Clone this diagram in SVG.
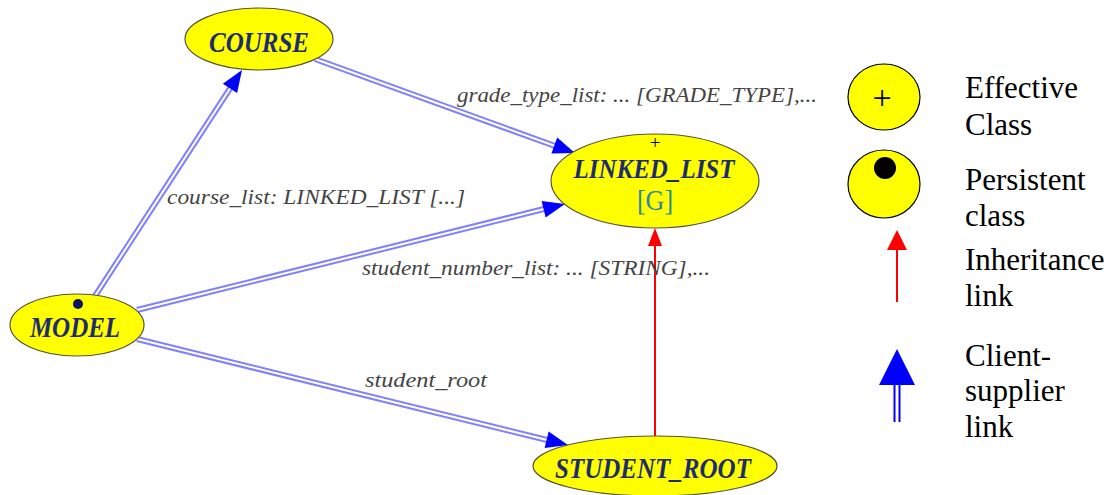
<svg xmlns="http://www.w3.org/2000/svg" xmlns:xlink="http://www.w3.org/1999/xlink" width="1112" height="495" viewBox="0 0 1112 495">
  <style>
    .node { fill: #ffff00; stroke: #55553a; stroke-width: 1.2; }
    .name { font-size: 25px; font-weight: bold; font-style: italic; fill: #1d2d6c; text-anchor: middle; }
    .generic { font-size: 26px; fill: #2b8a9c; text-anchor: middle; }
    .label { font-size: 20px; font-style: italic; fill: #444444; }
    .legend { font-size: 31px; fill: #000000; }
    .cs-outer { stroke: #8080ff; stroke-width: 6; fill: none; }
    .cs-inner { stroke: #ffffff; stroke-width: 2; fill: none; }
    .head { fill: #0000ff; }
    .inherit { stroke: #ff0000; stroke-width: 2; fill: none; }
  </style>
  <defs>
    <!-- arrowhead pointing along +x, tip at origin -->
    <path id="ah" class="head" d="M0,0 L-22,-8.5 L-22,8.5 Z"/>
  </defs>

  <rect width="1112" height="495" fill="#ffffff"/>

  <!-- client-supplier and inheritance links -->
  <g id="connectors">
    <g id="model-course">
      <line class="cs-outer" x1="95" y1="296" x2="231" y2="87"/>
      <line class="cs-inner" x1="95" y1="296" x2="231" y2="87"/>
      <use xlink:href="#ah" transform="translate(242,70) rotate(-56.96)"/>
    </g>
    <g id="course-linked">
      <line class="cs-outer" x1="315" y1="59" x2="555" y2="146"/>
      <line class="cs-inner" x1="315" y1="59" x2="555" y2="146"/>
      <use xlink:href="#ah" transform="translate(575,153) rotate(19.9)"/>
    </g>
    <g id="model-linked">
      <line class="cs-outer" x1="137" y1="310" x2="544" y2="209"/>
      <line class="cs-inner" x1="137" y1="310" x2="544" y2="209"/>
      <use xlink:href="#ah" transform="translate(565,204) rotate(-13.9)"/>
    </g>
    <g id="model-student">
      <line class="cs-outer" x1="137" y1="339" x2="547" y2="440"/>
      <line class="cs-inner" x1="137" y1="339" x2="547" y2="440"/>
      <use xlink:href="#ah" transform="translate(568,445) rotate(13.7)"/>
    </g>
    <g id="student-linked">
      <line class="inherit" x1="655" y1="437" x2="655" y2="244"/>
      <path d="M655,228 L662,246 L648,246 Z" fill="#ff0000"/>
    </g>
    <text class="label" font-family="Liberation Serif, serif" x="457" y="102" textLength="360" lengthAdjust="spacingAndGlyphs">grade_type_list: ... [GRADE_TYPE],...</text>
    <text class="label" font-family="Liberation Serif, serif" x="167" y="204" textLength="298" lengthAdjust="spacingAndGlyphs">course_list: LINKED_LIST [...]</text>
    <text class="label" font-family="Liberation Serif, serif" x="362" y="275" textLength="348" lengthAdjust="spacingAndGlyphs">student_number_list: ... [STRING],...</text>
    <text class="label" font-family="Liberation Serif, serif" x="365" y="387" textLength="122" lengthAdjust="spacingAndGlyphs">student_root</text>
  </g>

  <g id="course">
    <ellipse class="node" cx="259" cy="39" rx="74" ry="31"/>
    <text class="name" font-family="Liberation Serif, serif" transform="translate(259,52) scale(1,1.18)">COURSE</text>
  </g>

  <g id="linked_list">
    <ellipse class="node" cx="655" cy="181" rx="104" ry="47"/>
    <text font-family="Liberation Serif, serif" x="655" y="149" font-size="19" text-anchor="middle" fill="#000000">+</text>
    <text class="name" font-family="Liberation Serif, serif" transform="translate(654,178) scale(1,1.12)">LINKED_LIST</text>
    <text class="generic" font-family="Liberation Serif, serif" transform="translate(655,210) scale(1,1.1)">[G]</text>
  </g>

  <g id="model">
    <ellipse class="node" cx="77" cy="325" rx="67" ry="31"/>
    <circle cx="78" cy="304" r="5" fill="#0a1760"/>
    <text class="name" font-family="Liberation Serif, serif" transform="translate(75,337) scale(1,1.18)">MODEL</text>
  </g>

  <g id="student_root">
    <ellipse class="node" cx="655" cy="466" rx="122" ry="30"/>
    <text class="name" font-family="Liberation Serif, serif" transform="translate(653,478) scale(1,1.15)">STUDENT_ROOT</text>
  </g>

  <!-- key -->
  <g id="legend">
    <g id="legend-effective">
      <ellipse cx="884" cy="97" rx="36" ry="33" fill="#ffff00" stroke="#000000" stroke-width="1.2"/>
      <text font-family="Liberation Serif, serif" x="882" y="109" font-size="34" text-anchor="middle" fill="#000000">+</text>
      <text class="legend" font-family="Liberation Serif, serif" x="965" y="98">Effective</text>
      <text class="legend" font-family="Liberation Serif, serif" x="965" y="135">Class</text>
    </g>
    <g id="legend-persistent">
      <ellipse cx="884" cy="184" rx="36" ry="34" fill="#ffff00" stroke="#000000" stroke-width="1.2"/>
      <circle cx="885" cy="168" r="11" fill="#000000"/>
      <text class="legend" font-family="Liberation Serif, serif" x="965" y="190">Persistent</text>
      <text class="legend" font-family="Liberation Serif, serif" x="965" y="226">class</text>
    </g>
    <g id="legend-inheritance">
      <line x1="897" y1="248" x2="897" y2="302" stroke="#ff0000" stroke-width="2"/>
      <path d="M897,230 L907,250 L887,250 Z" fill="#ff0000"/>
      <text class="legend" font-family="Liberation Serif, serif" x="965" y="270">Inheritance</text>
      <text class="legend" font-family="Liberation Serif, serif" x="965" y="306">link</text>
    </g>
    <g id="legend-client">
      <line x1="894.5" y1="384" x2="894.5" y2="422" stroke="#0000ff" stroke-width="2"/>
      <line x1="899.5" y1="384" x2="899.5" y2="422" stroke="#0000ff" stroke-width="2"/>
      <path d="M897,349 L915,385 L879,385 Z" fill="#0000ff"/>
      <text class="legend" font-family="Liberation Serif, serif" x="965" y="366">Client-</text>
      <text class="legend" font-family="Liberation Serif, serif" x="965" y="401">supplier</text>
      <text class="legend" font-family="Liberation Serif, serif" x="965" y="437">link</text>
    </g>
  </g>
</svg>
